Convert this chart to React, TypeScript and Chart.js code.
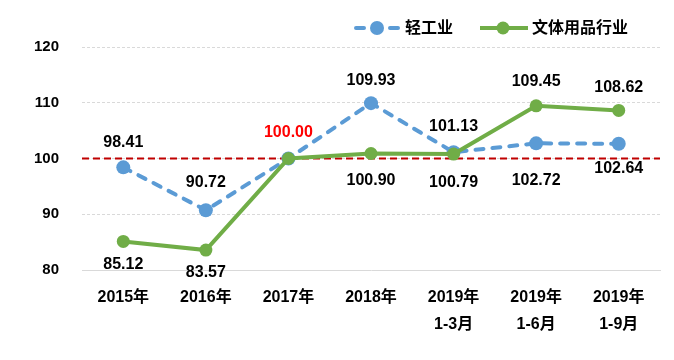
import React, { useEffect, useRef } from "react";
import { Chart, registerables } from "chart.js";

Chart.register(...registerables);

const categories: string[][] = [
  ["2015年"],
  ["2016年"],
  ["2017年"],
  ["2018年"],
  ["2019年", "1-3月"],
  ["2019年", "1-6月"],
  ["2019年", "1-9月"],
];
const seriesNames = ["轻工业", "文体用品行业"];
const lightIndustry = [98.41, 90.72, 100.0, 109.93, 101.13, 102.72, 102.64];
const stationery = [85.12, 83.57, 100.0, 100.9, 100.79, 109.45, 108.62];
const yMin = 80;
const yMax = 120;
const yStep = 10;
const baseline = 100;

// label placement (vertical offset from point, px); null = no label
const lightLabelDy: (number | null)[] = [-25, -28, -26, -23, -26, 37, 25];
const stationeryLabelDy: (number | null)[] = [23, 22, null, 27, 28, -24, -23];

const BLUE = "#5B9BD5";
const GREEN = "#70AD47";
const RED_LINE = "#C00000";
const RED_TEXT = "#FF0000";
const FONT = "'Liberation Sans', Arial, 'Noto Sans CJK SC', sans-serif";

export default function App() {
  const ref = useRef<HTMLCanvasElement | null>(null);

  useEffect(() => {
    if (!ref.current) return;

    const baselinePlugin = {
      id: "baseline",
      beforeDatasetsDraw(chart: any) {
        const { ctx, chartArea, scales } = chart;
        const y = scales.y.getPixelForValue(baseline);
        ctx.save();
        ctx.strokeStyle = RED_LINE;
        ctx.lineWidth = 2;
        ctx.setLineDash([7, 4]);
        ctx.beginPath();
        ctx.moveTo(chartArea.left, y);
        ctx.lineTo(chartArea.right, y);
        ctx.stroke();
        ctx.restore();
      },
    };

    const labelsPlugin = {
      id: "valueLabels",
      afterDatasetsDraw(chart: any) {
        const { ctx } = chart;
        const offsets = [lightLabelDy, stationeryLabelDy];
        ctx.save();
        ctx.font = `bold 16px ${FONT}`;
        ctx.textAlign = "center";
        ctx.textBaseline = "middle";
        chart.data.datasets.forEach((ds: any, di: number) => {
          const meta = chart.getDatasetMeta(di);
          meta.data.forEach((pt: any, i: number) => {
            const dy = offsets[di][i];
            if (dy === null || dy === undefined) return;
            const v = ds.data[i] as number;
            ctx.fillStyle = v === baseline ? RED_TEXT : "#000";
            ctx.fillText(v.toFixed(2), pt.x, pt.y + dy);
          });
        });
        ctx.restore();
      },
    };

    const legendPlugin = {
      id: "customLegend",
      afterDraw(chart: any) {
        const { ctx } = chart;
        const y = 28;
        ctx.save();
        // blue item
        ctx.strokeStyle = BLUE;
        ctx.lineWidth = 4;
        ctx.lineCap = "round";
        ctx.setLineDash([8, 9]);
        ctx.beginPath();
        ctx.moveTo(356, y);
        ctx.lineTo(398, y);
        ctx.stroke();
        ctx.setLineDash([]);
        ctx.fillStyle = BLUE;
        ctx.beginPath();
        ctx.arc(377, y, 7, 0, Math.PI * 2);
        ctx.fill();
        // green item
        ctx.strokeStyle = GREEN;
        ctx.lineCap = "butt";
        ctx.beginPath();
        ctx.moveTo(480, y);
        ctx.lineTo(528, y);
        ctx.stroke();
        ctx.fillStyle = GREEN;
        ctx.beginPath();
        ctx.arc(503, y, 6.5, 0, Math.PI * 2);
        ctx.fill();
        ctx.fillStyle = "#000";
        ctx.font = `bold 16px ${FONT}`;
        ctx.textAlign = "left";
        ctx.textBaseline = "middle";
        ctx.fillText(seriesNames[0], 405, y + 1);
        ctx.fillText(seriesNames[1], 532, y + 1);
        ctx.restore();
      },
    };

    const chart = new Chart(ref.current, {
      type: "line",
      data: {
        labels: categories,
        datasets: [
          {
            label: seriesNames[0],
            data: lightIndustry,
            borderColor: BLUE,
            backgroundColor: BLUE,
            borderWidth: 4,
            borderDash: [8, 9],
            borderCapStyle: "round",
            pointRadius: 7,
            pointHoverRadius: 7,
            pointBorderWidth: 0,
            pointBackgroundColor: BLUE,
            tension: 0,
            order: 1,
          },
          {
            label: seriesNames[1],
            data: stationery,
            borderColor: GREEN,
            backgroundColor: GREEN,
            borderWidth: 4,
            pointRadius: 6.5,
            pointHoverRadius: 6.5,
            pointBorderWidth: 0,
            pointBackgroundColor: GREEN,
            tension: 0,
            order: 0,
          },
        ],
      },
      options: {
        responsive: false,
        animation: false,
        layout: { padding: { left: 0, right: 14, top: 47, bottom: 0 } },
        plugins: {
          legend: { display: false },
          tooltip: { enabled: false },
          title: { display: false },
        },
        scales: {
          x: {
            offset: true,
            grid: { display: false, drawTicks: false },
            border: { display: true, color: "#D9D9D9", width: 1 },
            ticks: {
              autoSkip: false,
              maxRotation: 0,
              padding: 14,
              color: "#000",
              font: { family: FONT, size: 16, weight: "bold", lineHeight: 1.7 },
            },
            afterFit(scale: any) {
              scale.height = 90;
            },
          },
          y: {
            min: yMin,
            max: yMax,
            grid: { color: "#D9D9D9", lineWidth: 1, drawTicks: false },
            border: { display: false, dash: [3, 2] },
            ticks: {
              stepSize: yStep,
              padding: 23,
              color: "#000",
              font: { family: FONT, size: 15, weight: "bold" },
            },
            afterFit(scale: any) {
              scale.width = 82;
            },
          },
        },
      },
      plugins: [baselinePlugin, labelsPlugin, legendPlugin],
    } as any);

    return () => chart.destroy();
  }, []);

  return (
    <div style={{ position: "absolute", left: 0, top: 0, width: 674, height: 360, background: "#fff" }}>
      <canvas ref={ref} width={674} height={360} />
    </div>
  );
}
